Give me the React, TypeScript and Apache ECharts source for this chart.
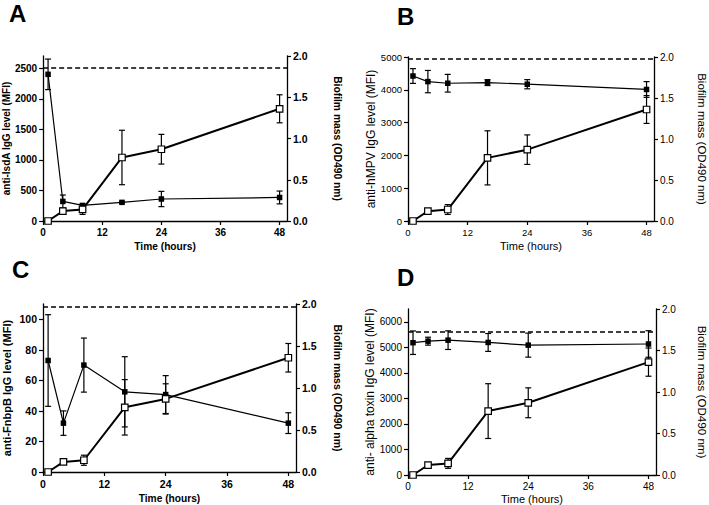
import React, { useEffect, useRef } from "react";
import * as echarts from "echarts";

// ---------- data ----------
const timePoints = [1, 4, 8, 16, 24, 48];
const xTicks = [0, 12, 24, 36, 48];

// biofilm mass (OD490 nm), open squares, right axis
const biofilmMean = [0, 0.12, 0.14, 0.77, 0.87, 1.36];
const biofilmSd = [0, 0.025, 0.06, 0.33, 0.18, 0.17];
const biofilmTicks = [0, 0.5, 1.0, 1.5, 2.0];

// A: anti-IsdA IgG (MFI)
const isdAMean = [2400, 320, 255, 305, 360, 385];
const isdASd = [250, 105, 25, 15, 125, 105];
const isdATicks = [0, 500, 1000, 1500, 2000, 2500];
const isdACutoff = 2500;

// B: anti-hMPV IgG (MFI)
const hmpvMean = [4420, 4250, 4200, 4220, 4170, 4010];
const hmpvSd = [225, 340, 270, 90, 140, 240];
const hmpvTicks = [0, 1000, 2000, 3000, 4000, 5000];
const hmpvCutoff = 4940;

// C: anti-FnbpB IgG (MFI)
const fnbpBMean = [73, 32, 70, 52.5, 50.7, 32];
const fnbpBSd = [30, 8, 17.7, 23, 12.4, 6.8];
const fnbpBTicks = [0, 20, 40, 60, 80, 100];
const fnbpBCutoff = 108.2;

// D: anti-alpha toxin IgG (MFI)
const alphaMean = [5180, 5240, 5280, 5190, 5085, 5130];
const alphaSd = [460, 155, 365, 350, 470, 520];
const alphaTicks = [0, 1000, 2000, 3000, 4000, 5000, 6000];
const alphaCutoff = 5590;

// ---------- layout / styles ----------
const FONT = "'Liberation Sans', Arial, Helvetica, sans-serif";

const panels = [
  {
    letter: "A", letterX: 9, letterY: 13,
    yName: "anti-IsdA IgG level (MFI)",
    mean: isdAMean, sd: isdASd, ticks: isdATicks, max: 2700, cutoff: isdACutoff,
    grid: { left: 41, top: 56, width: 246, height: 165 },
    bold: true, tickFs: 10, rTickFs: 10.5, yNameFs: 10, rNameFs: 10.3, xNameFs: 10.2,
    yGap: 30, rGap: 45, xGap: 20,
  },
  {
    letter: "B", letterX: 397, letterY: 16,
    yName: "anti-hMPV IgG level (MFI)",
    mean: hmpvMean, sd: hmpvSd, ticks: hmpvTicks, max: 5000, cutoff: hmpvCutoff,
    grid: { left: 408, top: 57, width: 247, height: 164 },
    bold: false, tickFs: 9.5, rTickFs: 10, yNameFs: 12, rNameFs: 11.5, xNameFs: 11,
    yGap: 28, rGap: 42, xGap: 19,
  },
  {
    letter: "C", letterX: 12, letterY: 269,
    yName: "anti-FnbpB IgG level (MFI)",
    mean: fnbpBMean, sd: fnbpBSd, ticks: fnbpBTicks, max: 110, cutoff: fnbpBCutoff,
    grid: { left: 43, top: 304, width: 253, height: 168 },
    bold: true, tickFs: 10.5, rTickFs: 10.5, yNameFs: 11, rNameFs: 10.5, xNameFs: 10.2,
    yGap: 31, rGap: 36, xGap: 21,
  },
  {
    letter: "D", letterX: 397, letterY: 277,
    yName: "anti- alpha toxin IgG level (MFI)",
    mean: alphaMean, sd: alphaSd, ticks: alphaTicks, max: 6500, cutoff: alphaCutoff,
    grid: { left: 408, top: 309, width: 248, height: 166 },
    bold: false, tickFs: 10, rTickFs: 10, yNameFs: 12, rNameFs: 11.6, xNameFs: 11,
    yGap: 28, rGap: 40, xGap: 18,
  },
];

function errorBarSeries(xIdx: number, yIdx: number, mean: number[], sd: number[]) {
  return {
    type: "custom",
    xAxisIndex: xIdx,
    yAxisIndex: yIdx,
    z: 2,
    silent: true,
    encode: { x: 0, y: [1, 2] },
    data: timePoints.map((t, j) => [t, mean[j] - sd[j], mean[j] + sd[j]]),
    renderItem: (params: any, api: any) => {
      const x = api.value(0);
      const lo = api.value(1);
      const hi = api.value(2);
      if (hi - lo <= 0) return null;
      const p1 = api.coord([x, lo]);
      const p2 = api.coord([x, hi]);
      const w = 3;
      const st = { stroke: "#000", lineWidth: 1.2 };
      return {
        type: "group",
        children: [
          { type: "line", shape: { x1: p1[0], y1: p1[1], x2: p2[0], y2: p2[1] }, style: st },
          { type: "line", shape: { x1: p1[0] - w, y1: p1[1], x2: p1[0] + w, y2: p1[1] }, style: st },
          { type: "line", shape: { x1: p2[0] - w, y1: p2[1], x2: p2[0] + w, y2: p2[1] }, style: st },
        ],
      };
    },
  };
}

export default function App() {
  const ref = useRef<HTMLDivElement>(null);

  useEffect(() => {
    document.body.style.margin = "0";
    if (!ref.current) return;
    const chart = echarts.init(ref.current, undefined, { renderer: "svg" });

    const grids: any[] = [];
    const xAxes: any[] = [];
    const yAxes: any[] = [];
    const series: any[] = [];
    const graphics: any[] = [];

    panels.forEach((p, i) => {
      const fw = p.bold ? "bold" : "normal";
      const axisLine = { show: true, onZero: false, lineStyle: { color: "#000", width: 1.3 } };
      grids.push({ ...p.grid, containLabel: false });

      xAxes.push({
        gridIndex: i,
        type: "value",
        min: 0,
        max: 49.5,
        interval: 12,
        axisLine,
        axisTick: { show: true, length: 4, customValues: xTicks, lineStyle: { color: "#000", width: 1.2 } },
        axisLabel: {
          customValues: xTicks, color: "#000", fontSize: p.tickFs, fontWeight: fw, fontFamily: FONT, margin: 6,
          formatter: (v: number) => String(v),
        },
        splitLine: { show: false },
        name: "Time (hours)",
        nameLocation: "middle",
        nameGap: p.xGap,
        nameTextStyle: { color: "#000", fontSize: p.xNameFs, fontWeight: fw, fontFamily: FONT },
      });

      yAxes.push({
        gridIndex: i,
        type: "value",
        position: "left",
        min: 0,
        max: p.max,
        interval: p.ticks[1] - p.ticks[0],
        axisLine,
        axisTick: { show: true, length: 4, customValues: p.ticks, lineStyle: { color: "#000", width: 1.2 } },
        axisLabel: {
          customValues: p.ticks, color: "#000", fontSize: p.tickFs, fontWeight: fw, fontFamily: FONT, margin: 6,
          formatter: (v: number) => String(v),
        },
        splitLine: { show: false },
        name: p.yName,
        nameLocation: "middle",
        nameRotate: 90,
        nameGap: p.yGap,
        nameTextStyle: { color: "#000", fontSize: p.yNameFs, fontWeight: fw, fontFamily: FONT },
      });

      yAxes.push({
        gridIndex: i,
        type: "value",
        position: "right",
        min: 0,
        max: 2,
        interval: 0.5,
        axisLine,
        axisTick: { show: true, length: 4, customValues: biofilmTicks, lineStyle: { color: "#000", width: 1.2 } },
        axisLabel: {
          customValues: biofilmTicks, color: "#000", fontSize: p.rTickFs, fontWeight: fw, fontFamily: FONT, margin: 6,
          formatter: (v: number) => v.toFixed(1),
        },
        splitLine: { show: false },
        name: "Biofilm mass (OD490 nm)",
        nameLocation: "middle",
        nameRotate: -90,
        nameGap: p.rGap,
        nameTextStyle: { color: "#000", fontSize: p.rNameFs, fontWeight: fw, fontFamily: FONT },
      });

      const yL = 2 * i;
      const yR = 2 * i + 1;

      series.push(errorBarSeries(i, yL, p.mean, p.sd));
      series.push(errorBarSeries(i, yR, biofilmMean, biofilmSd));

      series.push({
        type: "line",
        xAxisIndex: i,
        yAxisIndex: yL,
        z: 3,
        data: timePoints.map((t, j) => [t, p.mean[j]]),
        symbol: "rect",
        symbolSize: 5.5,
        itemStyle: { color: "#000" },
        lineStyle: { color: "#000", width: 1.2 },
        markLine: {
          silent: true,
          symbol: "none",
          label: { show: false },
          lineStyle: { color: "#000", width: 1.6, type: [5, 3] },
          data: [{ yAxis: p.cutoff }],
        },
      });

      series.push({
        type: "line",
        xAxisIndex: i,
        yAxisIndex: yR,
        z: 4,
        data: timePoints.map((t, j) => [t, biofilmMean[j]]),
        symbol: "rect",
        symbolSize: 6.5,
        itemStyle: { color: "#fff", borderColor: "#000", borderWidth: 1.2 },
        lineStyle: { color: "#000", width: 2 },
      });

      graphics.push({
        type: "text",
        left: p.letterX,
        top: p.letterY - 12,
        style: { text: p.letter, fill: "#000", font: `bold 24px ${FONT}` },
      });
    });

    chart.setOption({
      animation: false,
      backgroundColor: "#fff",
      grid: grids,
      xAxis: xAxes,
      yAxis: yAxes,
      series,
      graphic: graphics,
    });

    return () => chart.dispose();
  }, []);

  return <div ref={ref} style={{ width: 709, height: 505 }} />;
}
